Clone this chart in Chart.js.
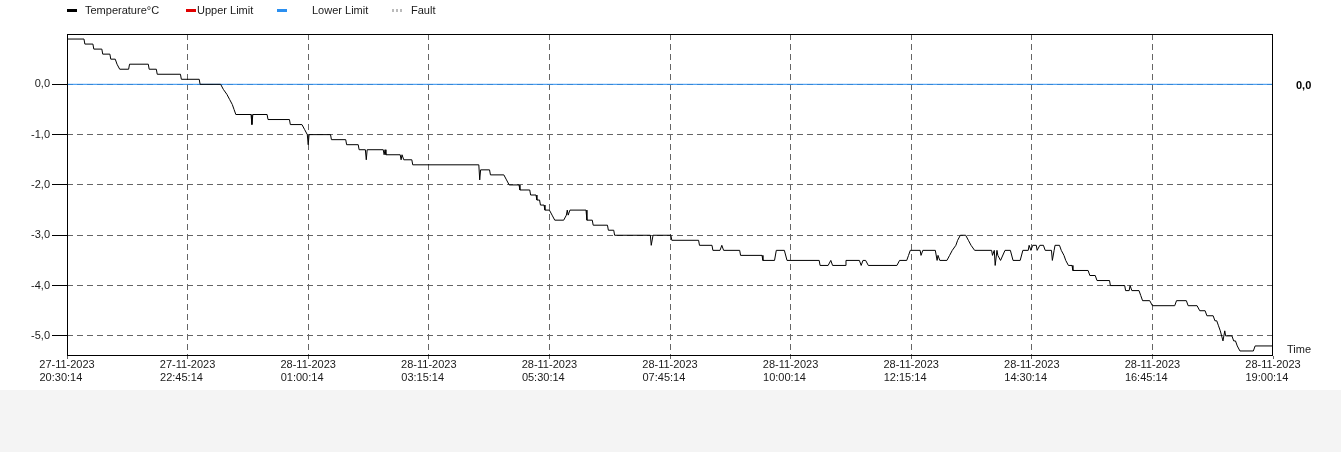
<!DOCTYPE html>
<html>
<head>
<meta charset="utf-8">
<script src="https://cdn.jsdelivr.net/npm/chart.js@4.4.1/dist/chart.umd.min.js"></script>
<style>
html,body{margin:0;padding:0;background:#f4f4f4;}
#wrap{width:1341px;height:390px;background:#ffffff;}
canvas{display:block;}
</style>
</head>
<body>
<div id="wrap"><canvas id="c" width="1341" height="390"></canvas></div>
<script>
// ---- data ----
const seriesNames = ["Temperature°C", "Upper Limit", "Lower Limit", "Fault"];
const tickMinutes = [0, 135, 270, 405, 540, 675, 810, 945, 1080, 1215, 1350];
const tickDates = ["27-11-2023", "27-11-2023", "28-11-2023", "28-11-2023", "28-11-2023", "28-11-2023", "28-11-2023", "28-11-2023", "28-11-2023", "28-11-2023", "28-11-2023"];
const tickTimes = ["20:30:14", "22:45:14", "01:00:14", "03:15:14", "05:30:14", "07:45:14", "10:00:14", "12:15:14", "14:30:14", "16:45:14", "19:00:14"];
const yTicks = [0, -1, -2, -3, -4, -5];
const lowerLimit = [0, 0];
const limitMinutes = [0, 1350];
// minutes after 27-11-2023 20:30:14
const sampleMinutes = [
  0, 19, 20, 29, 30, 39, 40, 48, 49, 54, 56, 59, 69, 70, 91, 92, 100, 101, 127, 128,
  148, 149, 172, 175, 179, 182, 185, 187, 189, 206, 207, 208, 224, 225, 249, 250, 263, 266, 269, 270,
  271, 295, 296, 312, 313, 326, 327, 334, 335, 336, 354, 355, 356, 357, 373, 374, 375, 377, 386, 387,
  461, 462, 463, 473, 474, 489, 492, 495, 506, 507, 518, 519, 525, 526, 529, 530, 534, 535, 540, 543,
  546, 556, 559, 560, 561, 563, 581, 582, 588, 589, 605, 606, 612, 613, 653, 654, 656, 676, 677, 707,
  708, 722, 723, 731, 733, 735, 753, 754, 778, 779, 792, 794, 803, 806, 842, 843, 852, 855, 857, 871,
  872, 887, 889, 891, 894, 897, 929, 932, 940, 942, 944, 955, 956, 958, 972, 974, 975, 977, 985, 988,
  991, 995, 997, 1000, 1006, 1009, 1012, 1016, 1035, 1036, 1038, 1039, 1041, 1042, 1045, 1050, 1056, 1059, 1067, 1070,
  1076, 1077, 1079, 1081, 1085, 1086, 1089, 1093, 1095, 1102, 1103, 1105, 1106, 1111, 1113, 1116, 1118, 1121, 1125, 1126,
  1143, 1145, 1151, 1153, 1167, 1168, 1184, 1185, 1189, 1190, 1191, 1192, 1200, 1202, 1204, 1212, 1215, 1240, 1242, 1253,
  1255, 1265, 1268, 1274, 1276, 1283, 1285, 1287, 1289, 1291, 1294, 1296, 1297, 1304, 1306, 1308, 1310, 1313, 1328, 1330,
  1350
];
const temperature = [
  0.9, 0.9, 0.8, 0.8, 0.7, 0.7, 0.6, 0.6, 0.5, 0.5, 0.4, 0.3, 0.3, 0.4, 0.4, 0.3, 0.3, 0.2, 0.2, 0.1,
  0.1, 0.0, 0.0, -0.1, -0.2, -0.3, -0.4, -0.5, -0.6, -0.6, -0.8, -0.6, -0.6, -0.7, -0.7, -0.8, -0.8, -0.9, -1.0, -1.2,
  -1.0, -1.0, -1.1, -1.1, -1.2, -1.2, -1.3, -1.3, -1.5, -1.3, -1.3, -1.4, -1.3, -1.4, -1.4, -1.5, -1.4, -1.5, -1.5, -1.6,
  -1.6, -1.9, -1.7, -1.7, -1.8, -1.8, -1.9, -2.0, -2.0, -2.1, -2.1, -2.2, -2.2, -2.3, -2.3, -2.4, -2.4, -2.5, -2.5, -2.6,
  -2.7, -2.7, -2.6, -2.5, -2.6, -2.5, -2.5, -2.7, -2.7, -2.8, -2.8, -2.9, -2.9, -3.0, -3.0, -3.2, -3.0, -3.0, -3.1, -3.1,
  -3.2, -3.2, -3.3, -3.3, -3.2, -3.3, -3.3, -3.4, -3.4, -3.5, -3.5, -3.3, -3.3, -3.5, -3.5, -3.6, -3.6, -3.5, -3.6, -3.6,
  -3.5, -3.5, -3.6, -3.5, -3.5, -3.6, -3.6, -3.5, -3.5, -3.4, -3.3, -3.3, -3.4, -3.3, -3.3, -3.5, -3.4, -3.5, -3.5, -3.4,
  -3.3, -3.2, -3.1, -3.0, -3.0, -3.1, -3.2, -3.3, -3.3, -3.4, -3.3, -3.6, -3.3, -3.4, -3.5, -3.3, -3.3, -3.5, -3.5, -3.3,
  -3.3, -3.2, -3.3, -3.2, -3.2, -3.3, -3.2, -3.2, -3.3, -3.3, -3.5, -3.3, -3.2, -3.2, -3.3, -3.4, -3.5, -3.6, -3.6, -3.7,
  -3.7, -3.8, -3.8, -3.9, -3.9, -4.0, -4.0, -4.1, -4.1, -4.0, -4.0, -4.1, -4.1, -4.2, -4.3, -4.3, -4.4, -4.4, -4.3, -4.3,
  -4.4, -4.4, -4.5, -4.5, -4.6, -4.6, -4.7, -4.7, -4.8, -4.9, -5.1, -4.9, -5.0, -5.0, -5.1, -5.1, -5.2, -5.3, -5.3, -5.2,
  -5.2
];

// ---- helpers ----
const FONT = "'Liberation Sans', Arial, sans-serif";
const TEXT = "#1a1a1a";
const GRID = "#666666";
const fmt = v => v.toFixed(1).replace('.', ',').replace('-0,0', '0,0');

const frameAndLabels = {
  id: 'frameAndLabels',
  afterDraw(chart) {
    const ctx = chart.ctx, a = chart.chartArea;
    const ys = chart.scales.y;
    ctx.save();
    ctx.strokeStyle = '#000';
    ctx.lineWidth = 1;
    ctx.setLineDash([]);
    const l = Math.round(a.left) + 0.5, r = Math.round(a.right) - 0.5;
    const t = Math.round(a.top) + 0.5, b = Math.round(a.bottom) - 0.5;
    ctx.strokeRect(l, t, r - l, b - t);
    // right-side limit value
    ctx.fillStyle = '#000';
    ctx.font = "bold 11px " + FONT;
    ctx.textBaseline = 'middle';
    ctx.textAlign = 'left';
    ctx.fillText(fmt(lowerLimit[0]), a.right + 23, ys.getPixelForValue(lowerLimit[0]) + 2);
    // axis title
    ctx.font = "11px " + FONT;
    ctx.fillStyle = TEXT;
    ctx.fillText('Time', a.right + 14, a.bottom - 6);
    ctx.restore();
  }
};

const topLegend = {
  id: 'topLegend',
  afterDraw(chart, args, opts) {
    const ctx = chart.ctx;
    ctx.save();
    ctx.font = "11px " + FONT;
    ctx.textBaseline = 'middle';
    ctx.textAlign = 'left';
    chart.data.datasets.forEach((ds, i) => {
      const pos = opts.items[i];
      ctx.strokeStyle = ds.borderColor;
      ctx.lineWidth = 3;
      ctx.setLineDash(ds.borderDash && ds.borderDash.length ? [2, 2] : []);
      ctx.beginPath();
      ctx.moveTo(pos.marker, opts.y + 0.5);
      ctx.lineTo(pos.marker + 10, opts.y + 0.5);
      ctx.stroke();
      ctx.setLineDash([]);
      ctx.fillStyle = TEXT;
      ctx.fillText(ds.label, pos.text, opts.y + 1);
    });
    ctx.restore();
  }
};

const toPoints = (xs, ys) => xs.map((x, i) => ({ x: x, y: ys[i] }));
const lastIdx = tickMinutes.length - 1;

new Chart(document.getElementById('c'), {
  type: 'line',
  data: {
    datasets: [
      { label: seriesNames[0], data: toPoints(sampleMinutes, temperature), borderColor: '#000000', borderWidth: 1, pointRadius: 0, tension: 0 },
      { label: seriesNames[1], data: [], borderColor: '#e00000', borderWidth: 1, pointRadius: 0 },
      { label: seriesNames[2], data: toPoints(limitMinutes, lowerLimit), borderColor: '#2b8ff0', borderWidth: 1, pointRadius: 0 },
      { label: seriesNames[3], data: [], borderColor: '#bbbbbb', borderWidth: 1, borderDash: [2, 2], pointRadius: 0 }
    ]
  },
  options: {
    responsive: false,
    animation: false,
    devicePixelRatio: 1,
    layout: { padding: { top: 34, right: 68, left: 0, bottom: 0 } },
    plugins: {
      legend: { display: false },
      tooltip: { enabled: false },
      topLegend: { y: 10, items: [ { marker: 67, text: 85 }, { marker: 186, text: 197 }, { marker: 277, text: 312 }, { marker: 392, text: 411 } ] }
    },
    scales: {
      x: {
        type: 'linear',
        min: 0,
        max: 1350,
        afterFit: s => { s.height = 34; },
        afterBuildTicks: s => { s.ticks = tickMinutes.map(v => ({ value: v })); },
        ticks: {
          autoSkip: false,
          maxRotation: 0,
          minRotation: 0,
          padding: 0,
          color: TEXT,
          font: { family: FONT, size: 11, lineHeight: 1.12 },
          callback: (value, index) => [tickDates[index], tickTimes[index] + '    ']
        },
        grid: {
          color: c => (c.index === 0 || c.index === lastIdx) ? 'rgba(0,0,0,0)' : GRID,
          lineWidth: 1, tickLength: 3, tickColor: GRID, tickBorderDash: []
        },
        border: { display: false, dash: [6, 4] }
      },
      y: {
        type: 'linear',
        min: -5.4,
        max: 1.0,
        afterFit: s => { s.width = 67; },
        afterBuildTicks: s => { s.ticks = yTicks.map(v => ({ value: v })); },
        ticks: {
          padding: 2,
          color: TEXT,
          font: { family: FONT, size: 11 },
          callback: v => fmt(v)
        },
        grid: { color: GRID, lineWidth: 1, tickLength: 15, tickColor: '#000000', tickBorderDash: [] },
        border: { display: false, dash: [6, 4] }
      }
    }
  },
  plugins: [frameAndLabels, topLegend]
});
</script>
</body>
</html>
